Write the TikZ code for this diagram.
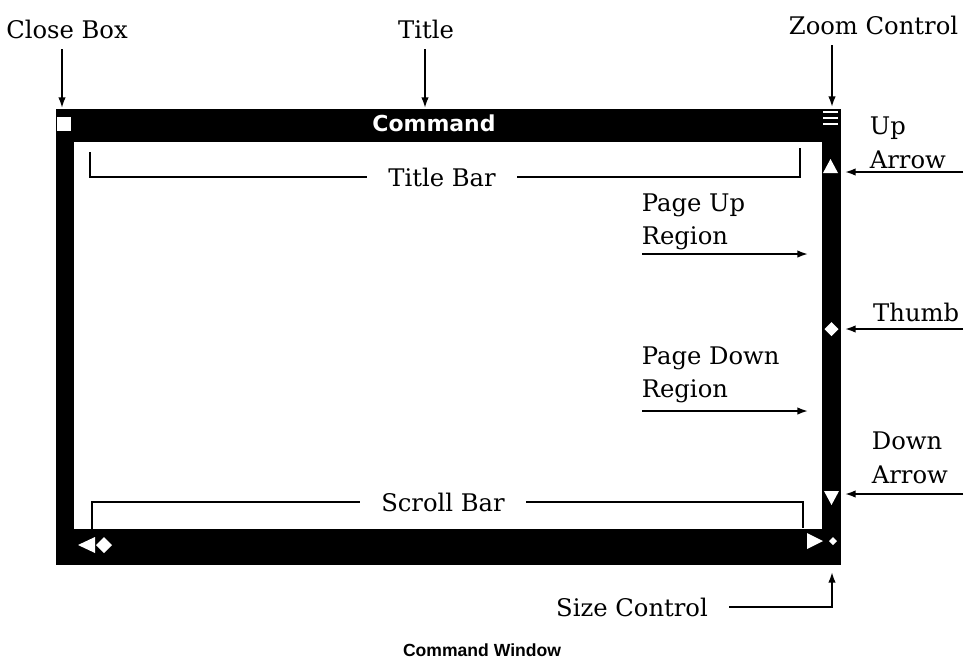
\documentclass[tikz,border=0pt]{standalone}
\usepackage{fontspec}
\setmainfont{DejaVu Serif}
\newfontfamily\capfont{Liberation Sans}
\newfontfamily\barfont{DejaVu Sans}
\usetikzlibrary{arrows.meta,calc,positioning}
\newcommand\lblsize{\fontsize{13.8}{19}\selectfont}
\tikzset{
  lbl/.style={font=\lblsize,inner sep=2pt},
  stack/.style={lbl,align=left,anchor=west},
  gaplbl/.style={lbl,inner xsep=12pt},
  pointer/.style={->,line width=1pt},
  bracket/.style={line width=1pt}
}

\begin{document}
\begin{tikzpicture}[x=0.02cm,y=-0.02cm,>={Latex[length=6pt,width=4.2pt]}]
  \useasboundingbox (0,0) rectangle (964,664);

  % window frame
  \fill (56,109) rectangle (841,565);
  \fill[white] (74,142) rectangle (822,529);
  \node[fill=white,minimum size=0.28cm,inner sep=0pt] (closebox) at (64,124) {};
  \node[text=white,font=\barfont\bfseries\fontsize{12.5}{14}\selectfont] (title) at (434,123) {Command};
  \foreach \y in {112,118,124}
    \draw[white,line width=1.2pt] (823,\y) -- (838,\y);
  \fill[white] (823,173) -- (838,173) -- (830.5,159) -- cycle;
  \fill[white] (831.5,322) -- (838.5,329) -- (831.5,336) -- (824.5,329) -- cycle;
  \fill[white] (824,491) -- (839,491) -- (831.5,505) -- cycle;
  \fill[white] (807,533) -- (807,549) -- (823,541) -- cycle;
  \fill[white] (833,537) -- (837,541) -- (833,545) -- (829,541) -- cycle;
  \fill[white] (78,545) -- (95,537) -- (95,553) -- cycle;
  \fill[white] (104,537) -- (112,545) -- (104,553) -- (96,545) -- cycle;

  % tips of the pointers
  \coordinate (closetip) at (62,108);
  \coordinate (titletip) at (425,108);
  \coordinate (zoomtip) at (832,107);
  \coordinate (uptip) at (845,172);
  \coordinate (upend) at (963,172);
  \coordinate (thumbtip) at (845,329);
  \coordinate (thumbend) at (963,329);
  \coordinate (downtip) at (845,494);
  \coordinate (downend) at (963,494);
  \coordinate (pgupstart) at (642,254);
  \coordinate (pguptip) at (808,254);
  \coordinate (pgdnstart) at (642,411);
  \coordinate (pgdntip) at (808,411);
  \coordinate (sizetip) at (832,572);

  % labels
  \node[lbl] (closelbl) at (67,29) {Close Box};
  \node[lbl] (titlelbl) at (426,29) {Title};
  \node[lbl,anchor=east] (zoomlbl) at (962,25) {Zoom Control};
  \node[stack] (uplbl) at (866,143) {Up\\Arrow};
  \node[lbl,anchor=east] (thumblbl) at (963,312) {Thumb};
  \node[stack] (downlbl) at (868,458) {Down\\Arrow};
  \node[stack] (pguplbl) at (638,222) {Page Up\\Region};
  \node[stack] (pgdnlbl) at (638,375) {Page Down\\Region};
  \node[gaplbl] (titlebar) at (442,177) {Title Bar};
  \node[gaplbl] (scrollbar) at (443,502) {Scroll Bar};
  \node[gaplbl] (sizelbl) at (632,607) {Size Control};
  \node[font=\capfont\bfseries\fontsize{10}{12}\selectfont] (caption) at (482,650) {Command Window};

  % pointers
  \draw[pointer] ([yshift=-4pt]closelbl.south -| closetip) -- (closetip);
  \draw[pointer] ([yshift=-4pt]titlelbl.south -| titletip) -- (titletip);
  \draw[pointer] ([yshift=-4pt]zoomlbl.south -| zoomtip) -- (zoomtip);
  \draw[pointer] (upend) -- (uptip);
  \draw[pointer] (thumbend) -- (thumbtip);
  \draw[pointer] (downend) -- (downtip);
  \draw[pointer] (pgupstart) -- (pguptip);
  \draw[pointer] (pgdnstart) -- (pgdntip);
  \draw[pointer] (sizelbl.east) -| (sizetip);

  % brackets
  \draw[bracket] (90,152) |- (titlebar.west);
  \draw[bracket] (titlebar.east) -| (800,148);
  \draw[bracket] (92,531) |- (scrollbar.west);
  \draw[bracket] (scrollbar.east) -| (803,528);
\end{tikzpicture}
\end{document}
